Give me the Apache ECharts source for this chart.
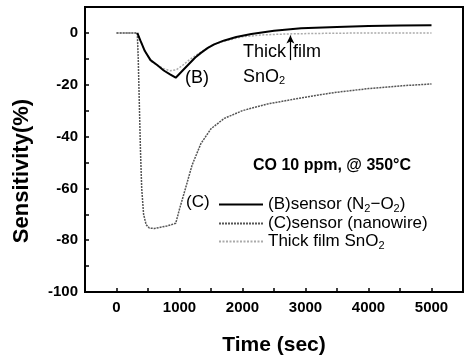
<!DOCTYPE html>
<html>
<head>
<meta charset="utf-8">
<script src="https://cdn.jsdelivr.net/npm/echarts@6/dist/echarts.min.js"></script>
<style>
  html, body { margin: 0; padding: 0; background: #fff; }
  #chart { width: 465px; height: 361px; }
</style>
</head>
<body>
<div id="chart"></div>
<script>
// CO response of the three sensors
const timeB = [330, 380, 450, 540, 650, 750, 850, 940, 1050, 1150, 1250, 1340, 1450, 1550, 1700, 1900, 2140, 2500, 2930, 3500, 4000, 4500, 5000];
const valuesB = [0, -3, -7, -10.5, -12.5, -14.5, -16, -17.3, -14.5, -12, -9.5, -7.7, -5.8, -4.4, -3, -1.6, -0.4, 0.8, 1.8, 2.3, 2.7, 2.9, 3];

const timeC = [0, 330, 345, 360, 380, 400, 430, 470, 520, 600, 700, 800, 900, 940, 1000, 1100, 1200, 1340, 1500, 1710, 2000, 2400, 3000, 3460, 4000, 4530, 5000];
const valuesC = [0, 0, -10, -25, -45, -60, -70, -74, -75.3, -75.5, -75, -74.5, -73.8, -73.5, -68, -59.6, -51, -42.7, -37, -33, -30, -27.4, -24.8, -23, -21.5, -20.4, -19.7];

const timeThick = [0, 330, 380, 450, 540, 650, 750, 850, 950, 1050, 1150, 1300, 1500, 1700, 2000, 2300, 2700, 3200, 4000, 5000];
const valuesThick = [0, 0, -3, -7, -10.8, -12.5, -13.8, -14.6, -14.2, -12.5, -10.5, -8, -5, -3.2, -1.5, -0.8, -0.4, -0.2, 0, 0];

const seriesNames = ["B", "C", "Thick"];
const legendLabels = {
  B: "(B)sensor (N{s|2}\u2212O{s|2})",
  C: "(C)sensor (nanowire)",
  Thick: "Thick film SnO{s|2}",
};
const arrowFrom = [2760, -10.5];
const arrowTo = [2760, -1];

const FONT = "Liberation Sans, Arial, sans-serif";
const pairs = (t, v) => t.map((x, i) => [x, v[i]]);
const subRich = { s: { fontSize: 11, fontFamily: FONT, padding: [8, 0, 0, 0] } };

const chart = echarts.init(document.getElementById("chart"), null, { renderer: "canvas" });

chart.setOption({
  animation: false,
  backgroundColor: "#fff",
  grid: { left: 85, right: 2, top: 7, bottom: 69, show: true, borderColor: "#000", borderWidth: 2 },
  xAxis: {
    type: "value",
    min: -500,
    max: 5500,
    interval: 500,
    name: "Time (sec)",
    nameLocation: "middle",
    nameGap: 43,
    nameTextStyle: { fontFamily: FONT, fontWeight: "bold", fontSize: 21, color: "#000" },
    axisLine: { onZero: false, lineStyle: { color: "#000", width: 2 } },
    axisTick: { inside: true, length: 4, lineStyle: { color: "#000", width: 1.5 } },
    axisLabel: {
      margin: 8,
      fontFamily: FONT,
      fontWeight: "bold",
      fontSize: 15,
      color: "#000",
      showMinLabel: false,
      showMaxLabel: false,
      formatter: (v) => (v % 1000 === 0 ? String(v) : ""),
    },
    splitLine: { show: false },
  },
  yAxis: {
    type: "value",
    min: -100,
    max: 10,
    interval: 10,
    axisLine: { onZero: false, lineStyle: { color: "#000", width: 2 } },
    axisTick: { inside: true, length: 4, lineStyle: { color: "#000", width: 1.5 } },
    axisLabel: {
      margin: 7,
      fontFamily: FONT,
      fontWeight: "bold",
      fontSize: 15,
      color: "#000",
      formatter: (v) => (v % 20 === 0 && v <= 0 ? String(v) : ""),
    },
    splitLine: { show: false },
  },
  legend: {
    orient: "vertical",
    left: 213,
    top: 191,
    itemWidth: 44,
    itemHeight: 14,
    itemGap: 1,
    data: seriesNames,
    itemStyle: { opacity: 0 },
    formatter: (name) => legendLabels[name],
    textStyle: { fontFamily: FONT, fontSize: 17, color: "#000", rich: subRich },
  },
  series: [
    {
      name: "B",
      type: "line",
      data: pairs(timeB, valuesB),
      symbol: "none",
      lineStyle: { color: "#000", width: 2 },
      itemStyle: { color: "#000" },
      z: 4,
    },
    {
      name: "C",
      type: "line",
      data: pairs(timeC, valuesC),
      symbol: "none",
      lineStyle: { color: "#555", width: 1.5, type: [2, 1] },
      itemStyle: { color: "#555" },
      z: 3,
    },
    {
      name: "Thick",
      type: "line",
      data: pairs(timeThick, valuesThick),
      symbol: "none",
      lineStyle: { color: "#aaa", width: 1.5, type: [2, 1.5] },
      itemStyle: { color: "#aaa" },
      z: 2,
      markLine: {
        silent: true,
        symbol: ["none", "arrow"],
        symbolSize: [6, 8],
        label: { show: false },
        lineStyle: { color: "#000", type: "solid", width: 1.2 },
        data: [[{ coord: arrowFrom }, { coord: arrowTo }]],
      },
    },
  ],
  graphic: [
    {
      type: "text", x: 22, y: 171, rotation: Math.PI / 2,
      style: { text: "Sensitivity(%)", fontFamily: FONT, fontWeight: "bold", fontSize: 22, fill: "#000", align: "center", verticalAlign: "middle" },
    },
    { type: "text", x: 185, y: 78, style: { text: "(B)", fontFamily: FONT, fontSize: 18, fill: "#000", verticalAlign: "middle" } },
    { type: "text", x: 243, y: 52, style: { text: "Thick", fontFamily: FONT, fontSize: 18, fill: "#000", verticalAlign: "middle" } },
    { type: "text", x: 293, y: 52, style: { text: "film", fontFamily: FONT, fontSize: 18, fill: "#000", verticalAlign: "middle" } },
    { type: "text", x: 243, y: 77, style: { text: "SnO{s|2}", rich: subRich, fontFamily: FONT, fontSize: 18, fill: "#000", verticalAlign: "middle" } },
    { type: "text", x: 253, y: 166, style: { text: "CO 10 ppm, @ 350\u00b0C", fontFamily: FONT, fontWeight: "bold", fontSize: 16, fill: "#000", verticalAlign: "middle" } },
    { type: "text", x: 186, y: 202, style: { text: "(C)", fontFamily: FONT, fontSize: 17, fill: "#000", verticalAlign: "middle" } },
  ],
});
</script>
</body>
</html>
